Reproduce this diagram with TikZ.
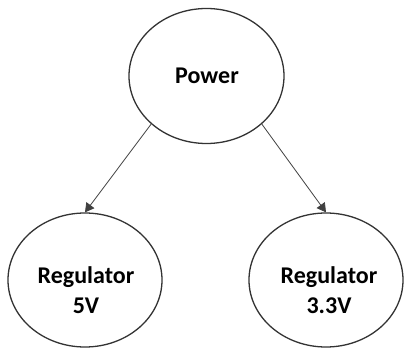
\documentclass[tikz,border=0pt]{standalone}
\usepackage{fontspec}
\setmainfont{Carlito}
\usetikzlibrary{shapes.geometric,arrows.meta}
\begin{document}
\begin{tikzpicture}[x=1pt,y=1pt,
  bubble/.style={draw=black!80, line width=1.3pt, ellipse, inner sep=0pt,
    minimum width=154pt, minimum height=134pt},
  lbl/.style={font=\bfseries\fontsize{24}{30}\selectfont, text=black, align=center, inner sep=0pt},
  link/.style={draw=black!75, line width=0.8pt, -{Triangle[length=9pt,width=10pt]}}]
\useasboundingbox (0,0) rectangle (404,348);
\node[bubble, minimum width=155pt, minimum height=135pt] (p) at (206.5,272) {};
\node[bubble] (l) at (85,68) {};
\node[bubble] (r) at (326,68) {};
\node[lbl] (pt) at (207,272) {Power};
\node[lbl] (lt) at (86,58) {Regulator\\5V};
\node[lbl] (rt) at (329,58) {Regulator\\3.3V};
\draw[link] (p.-139) -- (l.north);
\draw[link] (p.-41) -- (r.north);
\end{tikzpicture}
\end{document}
